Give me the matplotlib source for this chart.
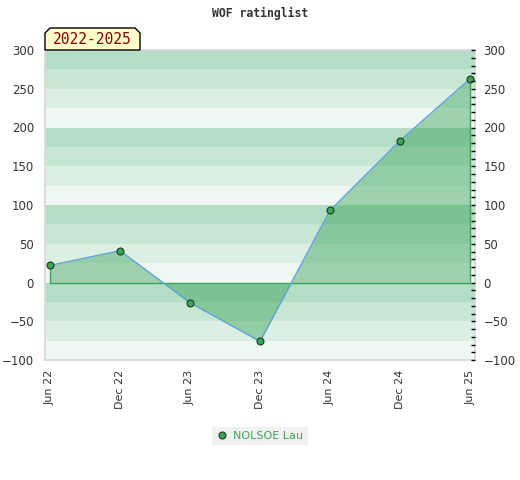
import numpy as np
import matplotlib.pyplot as plt
from matplotlib.patches import Polygon

# dados do gráfico
labels = ["Jun 22", "Dec 22", "Jun 23", "Dec 23", "Jun 24", "Dec 24", "Jun 25"]
rating = [22, 41, -26, -76, 93, 183, 263]
player = "NOLSOE Lau"
period = "2022-2025"
title = "WOF ratinglist"

band_colors = ['#b3ddc4', '#c8e6d4', '#dcefe3', '#eef7f1']

fig = plt.figure(figsize=(5.2, 4.8), dpi=100)
ax = fig.add_axes([45 / 520, 1 - 360 / 480, 430 / 520, 310 / 480])

x = np.arange(len(labels))
y = np.array(rating, dtype=float)

# faixas horizontais de fundo
for i, top in enumerate(range(300, -100, -25)):
    ax.axhspan(top - 25, top, color=band_colors[i % 4], lw=0, zorder=0)

ax.fill_between(x, y, 0, interpolate=True, color='#2e9e50', alpha=0.42, lw=0, zorder=1)
ax.plot([x[0], x[-1]], [0, 0], color='#3aa655', lw=1, zorder=2)
ax.plot([x[0], x[0]], [0, y[0]], color='#3aa655', lw=1, zorder=2)
ax.plot([x[-1], x[-1]], [0, y[-1]], color='#3aa655', lw=1, zorder=2)
ax.plot(x, y, color='#5fa0d8', lw=1, zorder=3)
ax.plot(x, y, 'o', ms=5, mfc='#3aa655', mec='#1a3a22', mew=0.8, zorder=4, label=player)

ax.set_xlim(-0.07, len(labels) - 1 + 0.07)
ax.set_ylim(-100, 300)
ax.set_yticks(range(-100, 301, 50))
ax.set_xticks(x)
ax.set_xticklabels(labels, rotation=90, fontsize=8, color='#333333')
ax.tick_params(axis='x', length=0, pad=7)
ax.tick_params(axis='y', length=0, labelsize=8.5, labelcolor='#333333', pad=8)

for s in ax.spines.values():
    s.set_color('#d8d8d8')
    s.set_linewidth(1.2)

# eixo direito
ax2 = ax.twinx()
ax2.set_ylim(-100, 300)
ax2.set_yticks(range(-100, 301, 50))
ax2.set_yticks(range(-100, 301, 10), minor=True)
ax2.tick_params(axis='y', which='both', direction='in', length=3, width=1,
                labelsize=8.5, labelcolor='#333333', color='black', pad=6)
for s in ax2.spines.values():
    s.set_visible(False)

fig.text(260 / 520, 1 - 13 / 480, title, ha='center', va='center',
         fontsize=8.3, fontweight='bold', family='DejaVu Sans Mono', color='#333333')

# etiqueta do período
pts = [(45, 50), (45, 33), (50, 28), (135, 28), (140, 33), (140, 50)]
pts = [(px / 520, 1 - py / 480) for px, py in pts]
fig.patches.append(Polygon(pts, closed=True, transform=fig.transFigure,
                           facecolor='#ffffcc', edgecolor='black', lw=1, zorder=5))
fig.text(92 / 520, 1 - 40 / 480, period, ha='center', va='center',
         fontsize=10.5, family='DejaVu Sans Mono', color='#8b0000', zorder=6)

leg = fig.legend(loc='center', bbox_to_anchor=(260 / 520, 1 - 436 / 480), fontsize=8,
                 frameon=True, facecolor='#eeeeee', edgecolor='none', fancybox=False,
                 handletextpad=0.5, borderpad=0.4, handlelength=1)
for t in leg.get_texts():
    t.set_color('#3aa655')

fig.savefig('out.png', dpi=100)
